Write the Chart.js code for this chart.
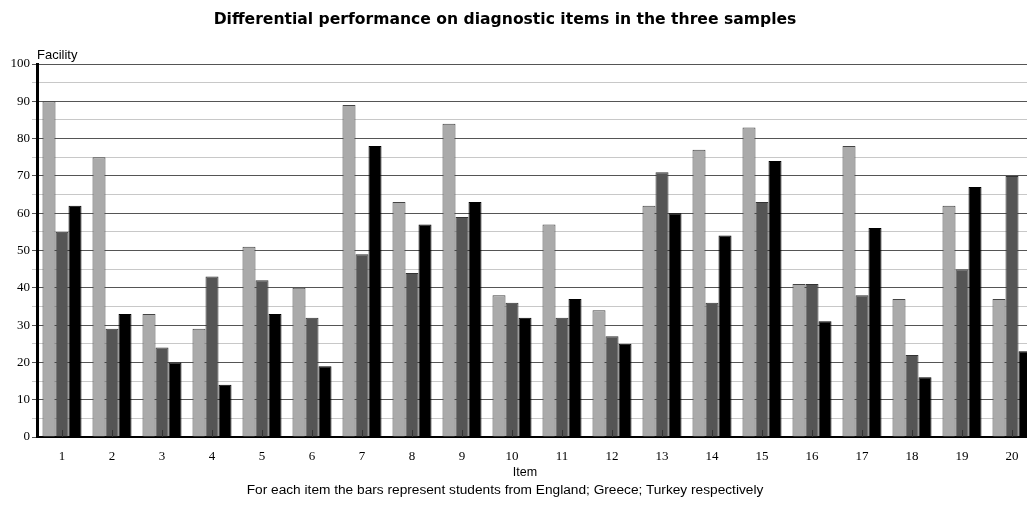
<!DOCTYPE html>
<html>
<head>
<meta charset="utf-8">
<script src="https://cdn.jsdelivr.net/npm/chart.js@4/dist/chart.umd.min.js"></script>
<style>
  html, body { margin: 0; padding: 0; background: #fff; overflow: hidden; }
  #wrap { position: relative; width: 1027px; height: 512px; overflow: hidden; }
  #box { position: absolute; left: 0; top: 0; width: 1045px; height: 512px; }
  .txt { position: absolute; white-space: nowrap; color: #000; text-align: center; }
  #title { left: 0; width: 1010px; top: 9px; font: bold 15.6px "DejaVu Sans", sans-serif; line-height: 20px; }
  #itemLbl { left: 425px; width: 200px; top: 463px; font: 12.5px "Liberation Sans", Arial, sans-serif; line-height: 18px; }
  #caption { left: 0; width: 1010px; top: 481px; font: 13.7px "Liberation Sans", Arial, sans-serif; line-height: 18px; }
</style>
</head>
<body>
<div id="wrap">
  <div id="box"><canvas id="myChart"></canvas></div>
  <div class="txt" id="title">Differential performance on diagnostic items in the three samples</div>
  <div class="txt" id="itemLbl">Item</div>
  <div class="txt" id="caption">For each item the bars represent students from England; Greece; Turkey respectively</div>
</div>
<script>
// items and facility values
const items = ['1','2','3','4','5','6','7','8','9','10','11','12','13','14','15','16','17','18','19','20'];
const england = [90, 75, 33, 29, 51, 40, 89, 63, 84, 38, 57, 34, 62, 77, 83, 41, 78, 37, 62, 37];
const greece  = [55, 29, 24, 43, 42, 32, 49, 44, 59, 36, 32, 27, 71, 36, 63, 41, 38, 22, 45, 70];
const turkey  = [62, 33, 20, 14, 33, 19, 78, 57, 63, 32, 37, 25, 60, 54, 74, 31, 56, 16, 67, 23];

const sans = 'Liberation Sans, Arial, sans-serif';
const serif = 'Liberation Serif, Times New Roman, serif';

// little upward tick marks on the item axis + the "Facility" label
const extras = {
  id: 'extras',
  afterDatasetsDraw(chart) {
    const ctx = chart.ctx;
    const x = chart.scales.x;
    const area = chart.chartArea;
    ctx.save();
    ctx.strokeStyle = '#333';
    ctx.lineWidth = 1;
    for (let i = 0; i < items.length; i++) {
      let px = Math.round(x.getPixelForValue(i)) + 0.5;
      ctx.beginPath();
      ctx.moveTo(px, area.bottom);
      ctx.lineTo(px, area.bottom - 7);
      ctx.stroke();
    }
    ctx.fillStyle = '#000';
    ctx.font = '13px ' + sans;
    ctx.textBaseline = 'bottom';
    ctx.fillText('Facility', area.left, area.top - 2);
    ctx.restore();
  }
};

const myChart = document.getElementById('myChart');

let barChart = new Chart(myChart, {
  type: 'bar',
  data: {
    labels: items,
    datasets: [
      { label: 'England', data: england, backgroundColor: '#aaaaaa', borderColor: '#444', borderWidth: 1 },
      { label: 'Greece', data: greece, backgroundColor: '#555555', borderColor: '#333', borderWidth: 1 },
      { label: 'Turkey', data: turkey, backgroundColor: '#000000', borderColor: '#000', borderWidth: 1 }
    ]
  },
  plugins: [extras],
  options: {
    responsive: true,
    maintainAspectRatio: false,
    animation: false,
    layout: { padding: { left: 0, right: 8, top: 64, bottom: 0 } },
    datasets: {
      bar: { barPercentage: 1, categoryPercentage: 0.78 }
    },
    plugins: {
      legend: { display: false },
      tooltip: { enabled: false },
      title: { display: false }
    },
    scales: {
      x: {
        grid: { display: false },
        border: { display: true, color: '#000', width: 2 },
        ticks: { font: { family: serif, size: 13 }, color: '#000', padding: 4 },
        afterFit: scale => { scale.height = 75; }
      },
      y: {
        z: 1,
        min: 0,
        max: 100,
        border: { display: true, color: '#000', width: 3 },
        grid: {
          color: ctx => (ctx.tick && ctx.tick.value % 10 === 0) ? '#555' : '#c8c8c8',
          lineWidth: 1,
          tickLength: 5,
          drawTicks: true
        },
        ticks: {
          stepSize: 5,
          padding: 2,
          font: { family: serif, size: 13 },
          color: '#000',
          callback: v => (v % 10 === 0 ? v : '')
        },
        afterFit: scale => { scale.width = 37; }
      }
    }
  }
});
</script>
</body>
</html>
